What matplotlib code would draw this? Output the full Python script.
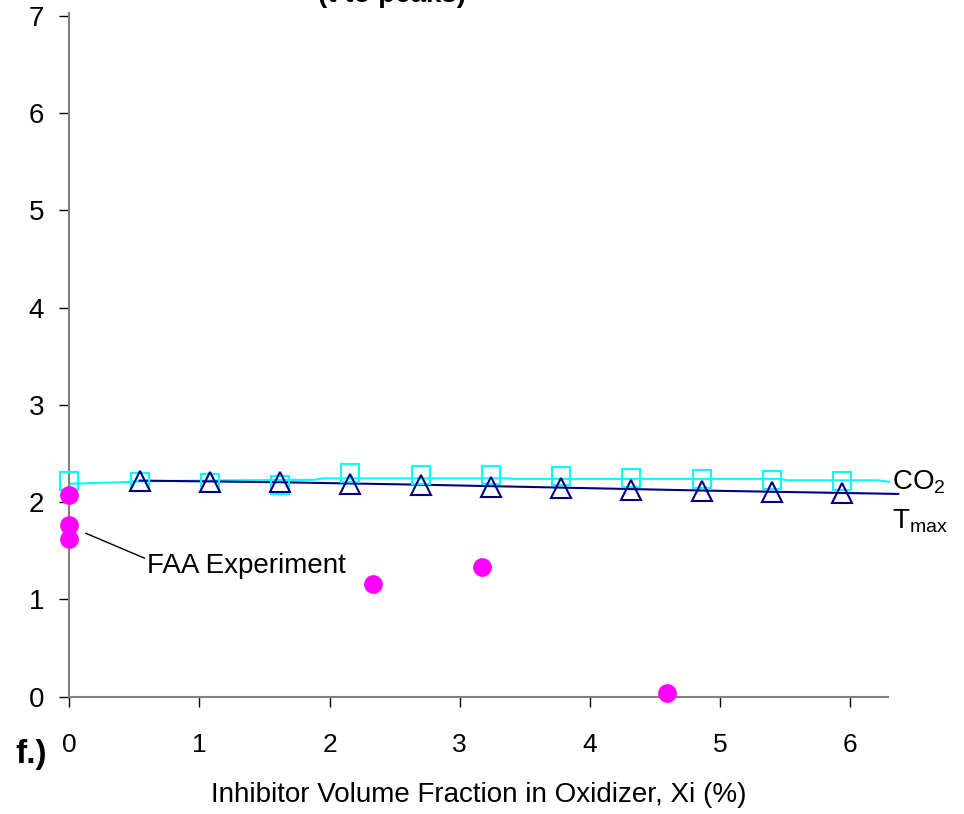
import numpy as np
import matplotlib
matplotlib.use("Agg")
import matplotlib.pyplot as plt

plt.rcParams['font.family'] = ['Liberation Sans', 'DejaVu Sans']
plt.rcParams['mathtext.default'] = 'regular'

# CO2 peak time (squares) and its curve
co2_x = [0, 0.54, 1.08, 1.62, 2.16, 2.70, 3.24, 3.78, 4.32, 4.86, 5.40, 5.94]
co2_y = [2.22, 2.21, 2.20, 2.18, 2.30, 2.28, 2.28, 2.27, 2.25, 2.24, 2.23, 2.22]
co2_line_x = [0, 0.40, 0.55, 1.22, 1.88, 1.95, 3.37, 3.41, 5.46, 5.52, 6.21, 6.30]
co2_line_y = [2.19, 2.205, 2.215, 2.225, 2.23, 2.245, 2.245, 2.24, 2.24, 2.225, 2.225, 2.21]

# Tmax peak time (triangles) and its curve
tmax_x = [0.54, 1.08, 1.62, 2.16, 2.70, 3.24, 3.78, 4.32, 4.86, 5.40, 5.94]
tmax_y = [2.22, 2.21, 2.21, 2.19, 2.18, 2.16, 2.15, 2.13, 2.12, 2.11, 2.09]
tmax_line_x = [0.54, 1.62, 2.70, 3.78, 4.86, 5.94, 6.37]
tmax_line_y = [2.222, 2.205, 2.18, 2.15, 2.12, 2.095, 2.085]

# FAA experiment
faa_x = [0, 0, 0, 2.33, 3.17, 4.59]
faa_y = [2.07, 1.77, 1.62, 1.16, 1.33, 0.04]

fig = plt.figure(figsize=(9.64, 8.14), dpi=100)
ax = fig.add_axes([0.0719, 0.1441, 0.8491, 0.8399])

ax.plot(co2_line_x, co2_line_y, color='#00FFFF', lw=1.5, clip_on=False, zorder=2)
ax.plot(tmax_line_x, tmax_line_y, color='#000080', lw=1.5, clip_on=False, zorder=2)
ax.plot(co2_x, co2_y, 's', ms=13, mfc='none', mec='#00FFFF', mew=1.5,
        clip_on=False, zorder=3)
ax.plot(tmax_x, tmax_y, '^', ms=14.5, mfc='none', mec='#000080', mew=1.5,
        clip_on=False, zorder=3)
ax.plot(faa_x, faa_y, 'o', ms=13.5, color='#FF00FF', mec='none',
        clip_on=False, zorder=4)

ax.set_xlim(0, 6.29)
ax.set_ylim(0, 7.03)
ax.set_xticks(range(7))
ax.set_yticks(range(8))

for s in ['top', 'right']:
    ax.spines[s].set_visible(False)
for s in ['left', 'bottom']:
    ax.spines[s].set_color('#808080')
    ax.spines[s].set_linewidth(1.5)

ax.tick_params(axis='y', direction='out', length=7, width=1, pad=11,
               labelsize=20)
ax.tick_params(axis='x', direction='out', length=7, width=1, pad=19,
               labelsize=19)

ax.annotate('FAA Experiment', xy=(0.126, 1.681), xytext=(0.60, 1.345),
            fontsize=20, va='center', ha='left',
            arrowprops=dict(arrowstyle='-', color='black', lw=1,
                            shrinkA=0, shrinkB=0,
                            relpos=(0, 0.75)))

ax.text(6.32, 2.21, 'CO$_2$', fontsize=20, va='center', ha='left',
        clip_on=False)
ax.text(6.32, 1.80, 'T$_{max}$', fontsize=20, va='center', ha='left',
        clip_on=False)

ax.set_xlabel('Inhibitor Volume Fraction in Oxidizer, Xi (%)', fontsize=20,
              labelpad=18)

fig.text(0.016, 0.063, 'f.)', fontsize=24, fontweight='bold', va='baseline')
# title sits mostly above the page edge, as in the original crop
fig.text(0.33, 0.9975, '(t to peaks)', fontsize=20, fontweight='bold',
         va='baseline')

fig.savefig('out.png', dpi=100)
